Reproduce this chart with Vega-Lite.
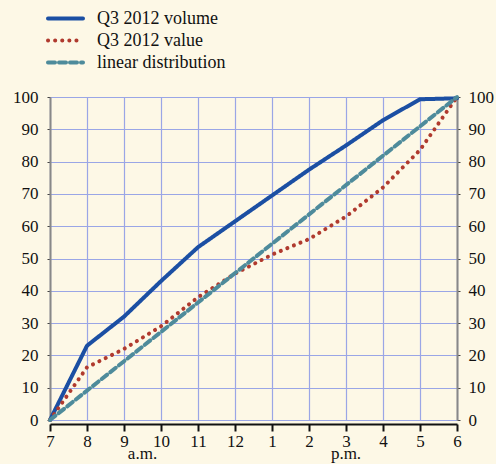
{
  "$schema": "https://vega.github.io/schema/vega-lite/v6.json",
  "autosize": {"type": "none"},
  "width": 407,
  "height": 323,
  "padding": {"left": 50, "top": 97, "right": 39, "bottom": 44},
  "background": "#fdf8e6",
  "config": {
    "view": {"stroke": null},
    "font": "Liberation Serif",
    "axis": {"labelFont": "Liberation Serif", "labelFontSize": 17, "labelColor": "#111", "gridColor": "#9aa6e6", "gridWidth": 1.2, "gridOpacity": 1, "labelOverlap": false},
    "legend": {"labelFont": "Liberation Serif"},
    "text": {"font": "Liberation Serif"}
  },
  "datasets": {
    "lines": [
      {"h": 0, "s": "Q3 2012 volume", "v": 0},
      {"h": 1, "s": "Q3 2012 volume", "v": 23},
      {"h": 2, "s": "Q3 2012 volume", "v": 32},
      {"h": 3, "s": "Q3 2012 volume", "v": 43},
      {"h": 4, "s": "Q3 2012 volume", "v": 53.5},
      {"h": 5, "s": "Q3 2012 volume", "v": 61.5},
      {"h": 6, "s": "Q3 2012 volume", "v": 69.5},
      {"h": 7, "s": "Q3 2012 volume", "v": 77.5},
      {"h": 8, "s": "Q3 2012 volume", "v": 85},
      {"h": 9, "s": "Q3 2012 volume", "v": 92.8},
      {"h": 10, "s": "Q3 2012 volume", "v": 99.3},
      {"h": 11, "s": "Q3 2012 volume", "v": 99.6},
      {"h": 0, "s": "Q3 2012 value", "v": 0},
      {"h": 1, "s": "Q3 2012 value", "v": 16.3},
      {"h": 2, "s": "Q3 2012 value", "v": 22},
      {"h": 3, "s": "Q3 2012 value", "v": 29},
      {"h": 4, "s": "Q3 2012 value", "v": 38},
      {"h": 5, "s": "Q3 2012 value", "v": 45.3},
      {"h": 6, "s": "Q3 2012 value", "v": 51.2},
      {"h": 7, "s": "Q3 2012 value", "v": 56},
      {"h": 8, "s": "Q3 2012 value", "v": 63},
      {"h": 9, "s": "Q3 2012 value", "v": 72},
      {"h": 10, "s": "Q3 2012 value", "v": 83.6},
      {"h": 11, "s": "Q3 2012 value", "v": 100},
      {"h": 0, "s": "linear distribution", "v": 0},
      {"h": 11, "s": "linear distribution", "v": 100}
    ],
    "notes": [
      {"h": 2.5, "v": -12, "t": "a.m."},
      {"h": 8, "v": -12, "t": "p.m."}
    ]
  },
  "layer": [
    {
      "data": {"name": "lines"},
      "mark": {"type": "line", "strokeWidth": 4, "strokeCap": "round", "clip": false},
      "encoding": {
        "x": {"field": "h", "type": "quantitative", "scale": {"domain": [0, 11], "nice": false},
          "axis": {"values": [0,1,2,3,4,5,6,7,8,9,10,11], "labelExpr": "['7','8','9','10','11','12','1','2','3','4','5','6'][datum.value]", "labelOverlap": false, "labelFlush": false, "title": null, "domain": true, "domainColor": "#111", "domainWidth": 2, "offset": 4, "tickColor": "#111", "tickWidth": 2, "tickSize": 7, "labelPadding": 2, "grid": true}},
        "y": {"field": "v", "type": "quantitative", "scale": {"domain": [0, 100], "nice": false},
          "axis": {"values": [0,10,20,30,40,50,60,70,80,90,100], "labelOverlap": false, "title": null, "domainColor": "#888", "domainWidth": 2, "tickColor": "#444", "tickSize": 3, "labelPadding": 9, "grid": true}},
        "color": {"field": "s", "type": "nominal",
          "scale": {"domain": ["Q3 2012 volume", "Q3 2012 value", "linear distribution"], "range": ["#1b4fa3", "#b03a2e", "#4e8b9b"]},
          "legend": {"title": null, "orient": "none", "legendX": -4, "legendY": -88, "symbolType": "stroke", "symbolSize": 1225, "symbolStrokeWidth": 4, "labelFontSize": 18, "labelColor": "#111", "rowPadding": 3, "clipHeight": 19, "labelOffset": 12,
            "encode": {"symbols": {"update": {"strokeCap": {"value": "round"}}}}}},
        "strokeDash": {"field": "s", "type": "nominal",
          "scale": {"domain": ["Q3 2012 volume", "Q3 2012 value", "linear distribution"], "range": [[1, 0], [0.1, 7], [7, 4]]},
          "legend": null}
      }
    },
    {
      "data": {"name": "lines"},
      "mark": {"type": "text", "opacity": 0},
      "encoding": {
        "y": {"field": "v", "type": "quantitative", "axis": {"orient": "right", "values": [0,10,20,30,40,50,60,70,80,90,100], "labelOverlap": false, "title": null, "domainColor": "#888", "domainWidth": 2, "tickColor": "#444", "tickSize": 3, "labelPadding": 8, "grid": false}}
      }
    },
    {
      "data": {"name": "notes"},
      "mark": {"type": "text", "fontSize": 17, "baseline": "alphabetic", "color": "#111", "clip": false},
      "encoding": {
        "x": {"field": "h", "type": "quantitative", "axis": null},
        "y": {"field": "v", "type": "quantitative", "axis": null},
        "text": {"field": "t"}
      }
    }
  ],
  "resolve": {"scale": {"x": "shared", "y": "shared"}, "axis": {"x": "independent", "y": "independent"}}
}
